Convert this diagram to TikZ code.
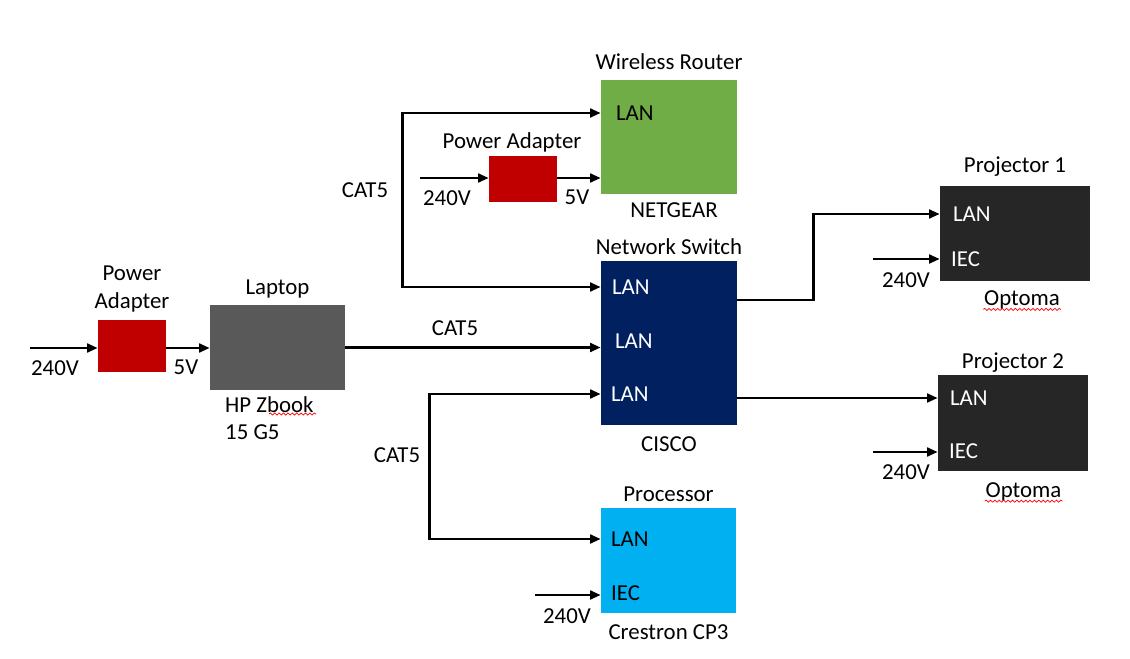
\documentclass[tikz,border=0pt]{standalone}
\usepackage{fontspec}
\setmainfont{Carlito}
\usetikzlibrary{arrows.meta, positioning, calc, decorations.pathmorphing}
\definecolor{padred}{HTML}{C00000}
\definecolor{lapgray}{HTML}{595959}
\definecolor{routergreen}{HTML}{70AD47}
\definecolor{switchblue}{HTML}{002060}
\definecolor{procblue}{HTML}{00B0F0}
\definecolor{projgray}{HTML}{262626}
\tikzset{
    >={Triangle[length=6pt, width=5pt]},
    box/.style 2 args = {rectangle, inner sep=0pt, minimum width=#1*0.02cm, minimum height=#2*0.02cm},
    port/.style = {anchor=west, inner sep=1pt},
    wire/.style = {line width=1.4pt, ->},
    squiggle/.style = {red, line width=0.4pt, decorate, decoration={snake, amplitude=0.6pt, segment length=2.5pt}}
}

\begin{document}
\begin{tikzpicture}[x=0.02cm, y=-0.02cm, font=\fontsize{13}{15.6}\selectfont]
  \useasboundingbox (0,0) rectangle (1130,659);

  % boxes
  \node[box={68}{52}, fill=padred] (padL) at (132,346) {};
  \node[box={135}{85}, fill=lapgray] (laptop) at (277.5,347.5) {};
  \node[box={136}{114}, fill=routergreen] (router) at (669,137) {};
  \node[box={68}{46}, fill=padred] (padM) at (523,179) {};
  \node[box={136}{164}, fill=switchblue] (switch) at (669,343) {};
  \node[box={135}{105}, fill=procblue] (proc) at (668.5,560.5) {};
  \node[box={150}{95}, fill=projgray] (proj1) at (1015,233.5) {};
  \node[box={150}{96}, fill=projgray] (proj2) at (1013,423) {};

  % titles and makes
  \node[above=1pt of padL, align=center] (padLtitle) {Power\\Adapter};
  \node[above=0pt of laptop] (laptoptitle) {Laptop};
  \node[anchor=north west, align=left] (zbook) at (219,390) {HP Zbook\\15 G5};
  \node[above=2pt of router] (routertitle) {Wireless Router};
  \node[below=1pt of router, xshift=0.1cm] (netgear) {NETGEAR};
  \node[above=-1.4pt of padM, xshift=-0.22cm] (padMtitle) {Power Adapter};
  \node[above=0pt of switch] (switchtitle) {Network Switch};
  \node[below=3pt of switch] (cisco) {CISCO};
  \node[above=0pt of proc] (proctitle) {Processor};
  \node[below=3pt of proc] (crestron) {Crestron CP3};
  \node[above=2pt of proj1] (proj1title) {Projector 1};
  \node[below=2pt of proj1, xshift=4pt] (opt1) {Optoma};
  \node[above=-2pt of proj2] (proj2title) {Projector 2};
  \node[below=3pt of proj2, xshift=6pt] (opt2) {Optoma};

  % ports
  \node[port] (rtlan) at (614,113) {LAN};
  \node[port, text=white] (swlan1) at (610,287) {LAN};
  \node[port, text=white] (swlan2) at (613,341) {LAN};
  \node[port, text=white] (swlan3) at (609,394) {LAN};
  \node[port] (proclan) at (609,539) {LAN};
  \node[port] (prociec) at (609,593) {IEC};
  \node[port, text=white] (p1lan) at (951,214) {LAN};
  \node[port, text=white] (p1iec) at (949,259) {IEC};
  \node[port, text=white] (p2lan) at (948,398) {LAN};
  \node[port, text=white] (p2iec) at (947,451) {IEC};

  % mains feeds
  \coordinate (acL) at (30,348);
  \coordinate (acM) at (420,178);
  \coordinate (acP) at (535,595);
  \coordinate (acP1) at (873,259);
  \coordinate (acP2) at (873,452);

  \draw[wire] (acL) -- (acL -| padL.west);
  \draw[wire] (padL.east |- acL) -- (acL -| laptop.west);
  \draw[wire] (acM) -- (acM -| padM.west);
  \draw[wire] (padM.east |- acM) -- (acM -| router.west);
  \draw[wire] (acP) -- (acP -| proc.west);
  \draw[wire] (acP1) -- (acP1 -| proj1.west);
  \draw[wire] (acP2) -- (acP2 -| proj2.west);

  % network
  \draw[wire] (laptop.east) -- (laptop.east -| switch.west);
  \draw[wire, <->] (rtlan -| router.west) -- ++(-198,0) |- (swlan1 -| switch.west);
  \draw[wire, <->] (swlan3 -| switch.west) -- ++(-171,0) |- (proclan -| proc.west);
  \draw[wire] ($(switch.east)+(0,-43)$) -- ++(76,0) |- (p1lan -| proj1.west);
  \draw[wire] (p2lan -| switch.east) -- (p2lan -| proj2.west);

  % cable and voltage labels
  \node (cat5a) at (365,190) {CAT5};
  \node (cat5b) at (455,328) {CAT5};
  \node (cat5c) at (397,455) {CAT5};
  \node (vL) at (55,368) {240V};
  \node (vLout) at (186,367) {5V};
  \node (vM) at (447,198) {240V};
  \node (vMout) at (577,197) {5V};
  \node (vP) at (567,616) {240V};
  \node (vP1) at (906,280) {240V};
  \node (vP2) at (906,472) {240V};

  % spell check marks
  \draw[squiggle] (269,414) -- (316,414);
  \draw[squiggle] ([xshift=3pt, yshift=-2pt]opt1.base west) -- ([xshift=-3pt, yshift=-2pt]opt1.base east);
  \draw[squiggle] ([xshift=3pt, yshift=-2pt]opt2.base west) -- ([xshift=-3pt, yshift=-2pt]opt2.base east);
\end{tikzpicture}
\end{document}
